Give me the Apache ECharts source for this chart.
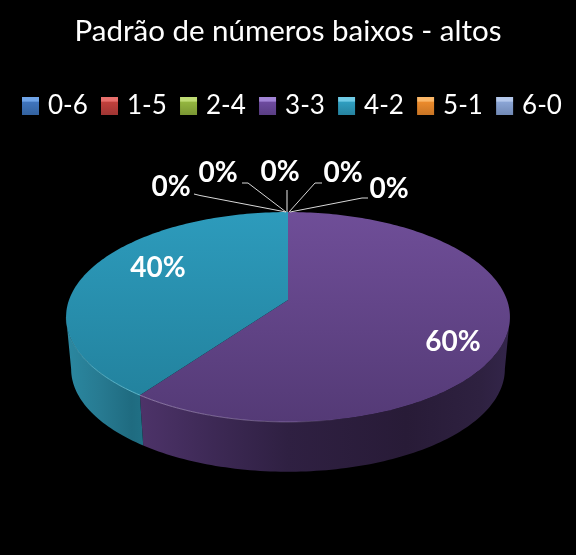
<!DOCTYPE html>
<html><head><meta charset="utf-8">
<style>html,body{margin:0;padding:0;background:#000}#c{width:576px;height:555px}</style>
<script src="https://cdn.jsdelivr.net/npm/echarts@6/dist/echarts.min.js"></script>
</head><body><div id="c"></div>
<script>
const categories = ['0-6','1-5','2-4','3-3','4-2','5-1','6-0'];
const values = [0,0,0,60,40,0,0];
const titleText = 'Padrão de números baixos - altos';

// styling / layout (not data)
const legendColors = [
  ['#6fa4e8','#3f74bd','#33629f'],['#e86f6c','#c0403c','#9f3533'],['#bfdc74','#93b53f','#7a9633'],
  ['#a284d6','#6d4a9e','#5a3e84'],['#6fcbe6','#2f9dbf','#26839f'],['#fbb768','#ea8a2c','#c87424'],['#b4c8ec','#8aa4d4','#7189b5']];
const topFill = {'3-3':['#6f4e98','#543a76'],'4-2':['#2d9bbc','#217f9a']};
const wallStops = {
  '3-3':[[0,'#4d3369'],[0.2,'#3d2955'],[0.4,'#2f2042'],[0.72,'#281b37'],[0.92,'#2e2140'],[1,'#33254a']],
  '4-2':[[0,'#2b88a1'],[0.45,'#277a91'],[0.85,'#1f6b80'],[1,'#207085']]};
const rimStops = {
  '3-3':[[0,'rgba(190,170,215,0.6)'],[0.4,'rgba(190,170,215,0.35)'],[0.55,'rgba(190,170,215,0)'],[1,'rgba(190,170,215,0)']],
  '4-2':[[0,'rgba(120,215,235,0.1)'],[0.3,'rgba(120,215,235,0.55)'],[1,'rgba(120,215,235,0.75)']]};
const labelAt = {'3-3':[[453,342]],'4-2':[[158,268]]};
const zeroLeaders = {
  '0-6':{label:[171,187],path:[[194,194],[200,195.5],[286,212]]},
  '1-5':{label:[218,173],path:[[242,183],[248,183],[286,212]]},
  '2-4':{label:[280,172],path:[[287,190],[287,212]]},
  '5-1':{label:[343,173],path:[[322,183],[315,183],[289,212]]},
  '6-0':{label:[389,189],path:[[368,198],[362,198],[290,212]]}};

const CX=288, P=0.162;
const TOP={R:219,S:102.2,cy:300}, BOT={R:214,S:100,cy:352.4};
function proj(theta,plane,r){
  r = r===undefined?1:r;
  const u=Math.sin(theta)*r, v=-Math.cos(theta)*r, w=1-P*v;
  return [CX+plane.R*u/w, plane.cy+plane.S*v/w];
}
const total = values.reduce((a,b)=>a+b,0);
const frontStart = Math.PI/2 + Math.asin(P);   // the wall is seen between these two angles
const frontEnd = 3*Math.PI/2 - Math.asin(P);
function arc(a,b,plane){
  const n=Math.max(2,Math.ceil(Math.abs(b-a)/0.02)), pts=[];
  for(let i=0;i<=n;i++) pts.push(proj(a+(b-a)*i/n,plane));
  return pts;
}
const font = 'Lato, Carlito, "Open Sans", sans-serif';

function makeRender(idx){
  return function(params,api){
    const name=categories[idx];
    let before=0; for(let i=0;i<idx;i++) before+=values[i];
    const val=api.value(0);
    const a=before/total*2*Math.PI, b=(before+val)/total*2*Math.PI;
    const pct=Math.round(val/total*100)+'%';
    const children=[];
    const text=(pos)=>({type:'text',style:{text:pct,x:pos[0],y:pos[1],align:'center',verticalAlign:'middle',
      fill:'#fff',font:'bold 28px '+font},z2:20});
    if(val===0){
      const z=zeroLeaders[name];
      children.push({type:'polyline',shape:{points:z.path},style:{stroke:name==='2-4'?'#a8a8a8':'#d8d8d8',lineWidth:name==='2-4'?1.4:1,fill:null},z2:10});
      children.push(text(z.label));
      return {type:'group',children};
    }
    const wa=Math.max(a,frontStart), wb=Math.min(b,frontEnd);
    if(wb>wa){
      const topArc=arc(wa,wb,TOP);
      const pts=topArc.concat(arc(wa,wb,BOT).reverse());
      const xs=pts.map(p=>p[0]), x0=Math.min(...xs), x1=Math.max(...xs);
      children.push({type:'polygon',shape:{points:pts},style:{fill:new echarts.graphic.LinearGradient(
        x0,0,x1,0,wallStops[name].map(s=>({offset:s[0],color:s[1]})),true)},z2:1});
      children.push({type:'polyline',shape:{points:topArc},style:{stroke:new echarts.graphic.LinearGradient(
        x0,0,x1,0,rimStops[name].map(s=>({offset:s[0],color:s[1]})),true),lineWidth:1,fill:null},z2:3});
    }
    const topPts=[proj(0,TOP,0)].concat(arc(a,b,TOP));
    children.push({type:'polygon',shape:{points:topPts},style:{fill:new echarts.graphic.LinearGradient(0,212,0,422,
      [{offset:0,color:topFill[name][0]},{offset:1,color:topFill[name][1]}],true)},z2:2});
    labelAt[name].forEach(p=>children.push(text(p)));
    return {type:'group',children};
  };
}
function legendGrad(c){
  return new echarts.graphic.LinearGradient(0,0,0,1,[
    {offset:0,color:c[0]},{offset:0.22,color:c[0]},{offset:0.3,color:c[1]},{offset:1,color:c[2]}]);
}
const chart=echarts.init(document.getElementById('c'),null,{renderer:'canvas'});
chart.setOption({
  backgroundColor:'#000',
  animation:false,
  title:{text:titleText,left:'center',top:11,textStyle:{color:'#fff',fontSize:29.5,fontWeight:'normal',fontFamily:font}},
  legend:{
    left:17,top:88,itemWidth:17,itemHeight:18,itemGap:13.2,icon:'rect',selectedMode:false,
    textStyle:{color:'#fff',fontSize:26,fontFamily:font,padding:[0,0,0,4]},
    data:categories.map((c,i)=>({name:c,itemStyle:{color:legendGrad(legendColors[i])}}))
  },
  series:categories.map((c,i)=>({
    type:'custom',name:c,coordinateSystem:'none',silent:true,
    itemStyle:{color:legendColors[i][1]},
    data:[[values[i]]],
    encode:{value:0},
    renderItem:makeRender(i)
  }))
});
</script></body></html>
